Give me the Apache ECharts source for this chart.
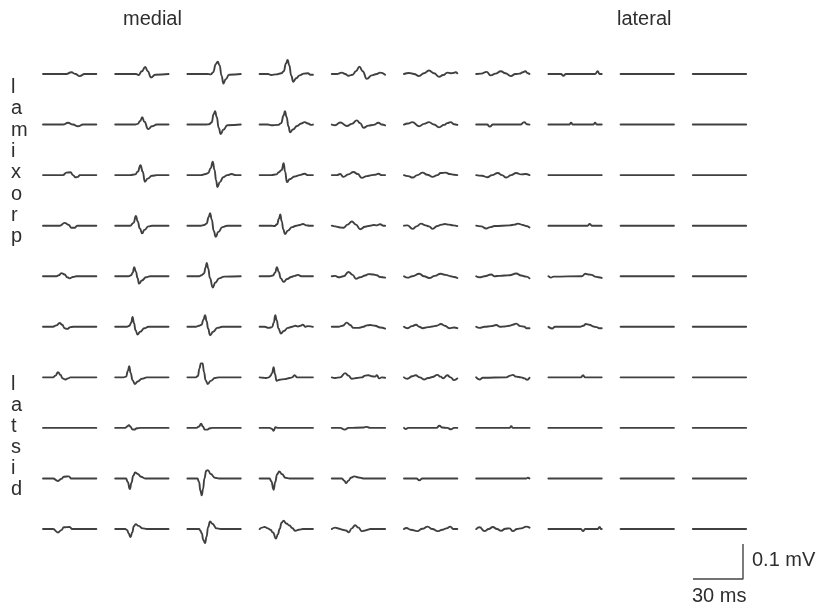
<!DOCTYPE html>
<html>
<head>
<meta charset="utf-8">
<script src="https://cdn.jsdelivr.net/npm/echarts@6/dist/echarts.min.js"></script>
<style>
  html, body { margin: 0; padding: 0; background: #fff; }
  #chart { width: 823px; height: 606px; }
</style>
</head>
<body>
<div id="chart"></div>
<script>
// Evoked potential traces: 10 recording rows (proximal at top, distal at bottom)
// by 10 electrode columns (medial at left, lateral at right).
// Each trace is a list of [time in ms, amplitude in µV] samples.

const FLAT = [[0, 0], [32, 0]];

const row1 = [
  [[0,0],[14,0],[17,5],[19.5,0],[22,-6],[25,0],[32,0]],
  [[0,0],[12.5,0],[14,-3],[16,8],[18,20],[19.5,8],[21.5,-10],[24,-2],[32,0]],
  [[0,0],[12,0],[14,-1],[15.5,5],[17,28],[18.2,35],[19.3,25],[20.5,-5],[21.6,-27],[23,-15],[25,-2],[32,0]],
  [[0,0],[5,0],[7,-3],[10,-1],[13,2],[14.5,8],[15.8,30],[16.8,40],[17.8,25],[19,-5],[20.2,-22],[22,-12],[24,-4],[26.5,1],[29,2],[30.5,-2],[32,-2]],
  [[0,0],[3,0],[6,4],[8,0],[10,-5],[12.5,-2],[14.5,8],[16.6,21],[18.5,8],[21,-14],[24,-4],[27,0],[29,4],[32,-2]],
  [[0,0],[3,3],[6,0],[9,-6],[12,2],[15,10],[18,2],[21,-8],[23.5,-3],[26,4],[28,2],[29.5,3],[31,5],[32,2]],
  [[0,0],[3,1],[6.2,6],[8.8,-4],[11.5,1],[14.8,8],[17.5,2],[20.8,-6],[23.5,0],[26,1],[28,5],[29.4,8],[31,2],[32,0]],
  [[0,0],[7.5,0],[9,-5],[10.5,0],[28,0],[29.6,8],[30.6,0],[32,0]],
  FLAT, FLAT
];

const row2 = [
  [[0,0],[12,0],[15,5],[18,0],[21,-5],[24,0],[32,0]],
  [[0,0],[12,0],[13.5,2],[15,10],[16.2,21],[17.5,8],[19.8,-13],[22,-5],[25,0],[32,0]],
  [[0,0],[11,0],[13,1],[14.5,6],[15.8,30],[16.6,38],[17.6,22],[18.8,-10],[20,-27],[21.5,-15],[24,-2],[32,0]],
  [[0,0],[5,0],[7,-2],[11,-1],[13,4],[14.3,25],[15.2,38],[16.2,22],[17.3,-5],[18.3,-22],[20,-14],[22.5,-4],[25,3],[27,7],[29,3],[31,-1],[32,0]],
  [[0,0],[2,-2],[5,6],[9,-4],[12,2],[15,12],[17,4],[19,-9],[22,-3],[25,-1],[28,5],[30,0],[32,-2]],
  [[0,0],[2.5,3],[5,7],[9,-5],[12,2],[15,7],[18,0],[21,-8],[24,-1],[26,4],[28,7],[30,1],[32,-1]],
  [[0,0],[6.5,0],[8.2,-6],[10,0],[26.5,0],[28.8,7],[30.5,1],[32,0]],
  [[0,0],[12.5,0],[13.6,5],[14.7,0],[27,0],[28,5],[29,0],[32,0]],
  FLAT, FLAT
];

const row3 = [
  [[0,0],[12,0],[14,7],[16.5,8],[18,0],[19.5,-6],[21,-5],[22,0],[32,0]],
  [[0,0],[9,0],[12,2],[13.5,10],[15.2,28],[16.5,10],[17.8,-19],[19.5,-10],[22,-2],[25,0],[32,0]],
  [[0,0],[8,0],[11,3],[12.5,6],[14,20],[15.2,38],[16.3,15],[17.2,-15],[18,-34],[19.5,-20],[21.5,-6],[24,0],[26.5,3],[29,0],[32,0]],
  [[0,0],[7,0],[10,2],[11.5,8],[13.3,15],[14.4,34],[15.3,10],[16.4,-20],[18,-12],[21,-4],[24,0],[27,4],[29,0],[32,0]],
  [[0,0],[3,0],[5,3],[7,-5],[10,2],[13,9],[15.5,3],[18,-8],[21,-3],[24,0],[26,1],[28,4],[30,0],[32,0]],
  [[0,0],[2.5,-3],[5.2,-7],[8,0],[11.2,7],[14,1],[17.2,-5],[20,0],[22,6],[25,7],[27.5,3],[30,1],[32,0]],
  [[0,0],[3.5,-2],[6.6,-6],[9.5,0],[13,6],[15.5,0],[18,-7],[21,0],[24,6],[27,2],[29.5,3],[32,0]],
  FLAT, FLAT, FLAT
];

const row4 = [
  [[0,0],[10,0],[13,8],[15.5,2],[17,-6],[19,-6],[20.5,0],[32,0]],
  [[0,0],[9,0],[11,8],[12.4,28],[13.5,12],[14.8,-8],[16.2,-22],[17.5,-12],[20,-2],[22,0],[32,0]],
  [[0,0],[8,0],[10,2],[11.5,6],[12.8,25],[13.6,36],[14.6,18],[15.8,-15],[17,-32],[18.5,-18],[21,-4],[24,0],[32,0]],
  [[0,0],[7,0],[9,-1],[10.5,4],[11.6,20],[12.4,32],[13.3,12],[14.2,-10],[15.2,-24],[17,-14],[19.5,-4],[22,0],[24,2],[26,5],[28,1],[30,0],[32,0]],
  [[0,0],[2,-2],[5,-5],[7,-6],[9.5,3],[12,12],[14.5,3],[17,-10],[20,-3],[23,0],[25,2],[27,1],[29,4],[31,0],[32,0]],
  [[0,0],[2,1],[5.2,-9],[7.5,-2],[10.2,6],[13,1],[15,-2],[17.2,-9],[20,-1],[22.5,3],[24.5,5],[27,3],[29.5,1],[32,-1]],
  [[0,0],[3,-2],[6,-8],[8.5,-4],[11,-1],[20,1],[23,3],[25,6],[28,2],[30,-1],[32,-5]],
  [[0,0],[23.5,0],[24.8,5],[26,0],[32,0]],
  FLAT, FLAT
];

const row5 = [
  [[0,0],[8,0],[9.5,3],[11,9],[13,5],[14.5,-3],[16,-6],[18,-2],[20,0],[32,0]],
  [[0,0],[8,0],[9.5,3],[10.5,10],[11.4,26],[12.5,12],[13.4,-5],[14.3,-21],[16,-12],[18.5,-3],[21,0],[32,0]],
  [[0,0],[7,0],[8.5,3],[10,8],[10.9,25],[11.6,38],[12.5,22],[13.5,-5],[15.2,-32],[16.8,-18],[19,-6],[22,-1],[32,0]],
  [[0,0],[6,0],[8,2],[9.3,10],[10.4,26],[11.5,12],[12.7,-6],[14.4,-16],[16.5,-8],[19,-2],[21,1],[23,4],[25,0],[32,0]],
  [[0,0],[2,1],[4,-3],[7,0],[10,12],[12.5,4],[14.5,-7],[17,-3],[20,2],[22,6],[25,5],[27,3],[29,-2],[32,-4]],
  [[0,0],[2.2,-4],[5,0],[9.2,7],[12,0],[15.2,-5],[18.5,1],[22,7],[25,4],[28,0],[30,-2],[32,-5]],
  [[0,0],[2,-3],[5,0],[9,5],[11,0],[14,1],[17,2],[20,3],[24,8],[27,2],[30,-1],[32,-6]],
  [[0,0],[1.5,-4],[3,-1],[20,0],[22.2,7],[24,5],[26,4],[28,-1],[30,-3],[32,-5]],
  FLAT, FLAT
];

const row6 = [
  [[0,0],[6,0],[8,4],[10,11],[11.5,6],[13,-4],[14.5,-6],[16.5,-1],[18,0],[32,0]],
  [[0,0],[7,0],[8.5,3],[9.6,12],[10.4,28],[11.3,10],[12.2,-10],[13.4,-22],[15,-14],[17.5,-4],[20,0],[32,0]],
  [[0,0],[5,0],[7,3],[8.5,6],[9.6,20],[10.6,33],[11.6,15],[12.4,-5],[13.6,-24],[15.5,-14],[18,-3],[21,0],[32,0]],
  [[0,0],[3,0],[5.5,-3],[7.5,-1],[8.5,12],[9.4,33],[10.3,18],[11.3,-5],[12.8,-19],[14.5,-12],[17,-3],[19.5,0],[21.5,3],[23,1],[24.5,3],[26,6],[27.5,0],[29,2],[32,0]],
  [[0,0],[4,0],[6.5,3],[9,12],[11,5],[13,-3],[16,-3],[19,0],[21,4],[23,5],[26,3],[29,-2],[32,-5]],
  [[0,0],[2.2,-4],[4.8,2],[7.2,6],[9.2,0],[11.2,-4],[14.5,-1],[17,1],[19.5,3],[22.2,8],[24.5,3],[27.2,-4],[30,-2],[32,-4]],
  [[0,0],[2,-3],[5,0],[9,2],[12,5],[14.5,0],[17,1],[20,3],[22,6],[24,9],[26.5,2],[29,0],[30,-4],[32,-4]],
  [[0,0],[2.2,-5],[4,0],[19,0],[21,3],[22.5,8],[24.5,6],[27,1],[29,-1],[30.5,-4],[32,-4]],
  FLAT, FLAT
];

const row7 = [
  [[0,0],[6,0],[7.5,5],[9,15],[10.5,7],[11.8,-3],[13.4,-6],[15,-3],[16.5,0],[32,0]],
  [[0,0],[5,0],[6.5,2],[7.6,18],[8.4,32],[9.3,12],[10.4,-8],[11.8,-19],[13.5,-12],[16,-4],[19,0],[32,0]],
  [[0,0],[5,0],[6.3,4],[7.2,25],[8.1,40],[9.1,40],[10,15],[10.9,-8],[12.2,-19],[14,-10],[16.5,-2],[19,0],[32,0]],
  [[0,0],[2,-1],[4,-2],[5.5,0],[6.5,4],[7.5,12],[8.4,29],[9.2,10],[10.2,-10],[12,-7],[15,-5],[18,-2],[19.5,0],[21,6],[22.5,0],[25,0],[32,0]],
  [[0,0],[2,-2],[5,0],[8,12],[10,5],[12,-4],[15,-2],[18,0],[20,5],[22,6],[24,3],[26,2],[27,6],[28.5,-3],[30,0],[32,-1]],
  [[0,0],[2,-4],[5,3],[7,6],[9.5,0],[12,-6],[14.5,-2],[17,1],[20,7],[22,2],[23.5,-3],[26,6],[28,0],[30,-8],[32,-3]],
  [[0,0],[2,-6],[4,-1],[18,0],[20.5,5],[22,7],[24,2],[27,0],[29,-3],[30.5,-7],[32,-1]],
  [[0,0],[19.5,0],[20.8,6],[22,0],[32,0]],
  FLAT, FLAT
];

const row8 = [
  FLAT,
  [[0,0],[6,0],[7.2,4],[8.2,8],[9.3,3],[10.2,-4],[11.4,-5],[13,-1],[15,0],[32,0]],
  [[0,0],[5.5,0],[7,4],[8.2,12],[9.3,4],[10.4,-5],[12,-5],[13.5,-1],[15,0],[32,0]],
  [[0,0],[6,0],[7.2,-2],[8.4,-8],[9.5,2],[11,0],[32,0]],
  [[0,0],[5,0],[7.8,-5],[10,0],[19,1],[21,3],[23,0],[32,0]],
  [[0,0],[1,-3],[2.5,0],[19.5,0],[21.2,6],[23,1],[26,0],[28.2,-4],[30,0],[32,0]],
  [[0,0],[20,0],[21,5],[22,0],[32,0]],
  FLAT, FLAT, FLAT
];

const row9 = [
  [[0,0],[6,0],[9,-7],[11,-1],[12.5,5],[15.5,6],[17,0],[32,0]],
  [[0,0],[6.5,0],[7.5,-10],[8.8,-30],[9.8,-12],[10.8,8],[12,17],[13.5,13],[15.5,5],[18,0],[32,0]],
  [[0,0],[6,0],[7,-10],[7.8,-35],[8.6,-48],[9.4,-30],[10.2,0],[11.3,22],[12.3,24],[14,13],[16.5,2],[19,0],[32,0]],
  [[0,0],[6,0],[7,-8],[8.4,-32],[9.4,-10],[10.5,12],[11.8,20],[13.5,12],[15.5,2],[18,0],[32,0]],
  [[0,0],[6,0],[7.5,-6],[8.6,-13],[10,-6],[11.5,2],[13.5,6],[16,3],[19,0],[32,0]],
  [[0,0],[7.5,0],[9.2,-5],[11,0],[32,0]],
  [[0,0],[30,0],[31,2],[32,0]],
  FLAT, FLAT, FLAT
];

const row10 = [
  [[0,0],[6,0],[9,-10],[11,-3],[12.5,5],[16,6],[17.5,0],[32,0]],
  [[0,0],[6,0],[7.2,-3],[8,-12],[9.2,-23],[10.2,-10],[11.2,8],[12.3,14],[14,9],[16.5,2],[19,0],[32,0]],
  [[0,0],[7,0],[7.8,-5],[8.6,-12],[9.6,-32],[10.6,-40],[11.5,-22],[12.4,5],[13.6,22],[15,15],[17.5,2],[20,0],[32,0]],
  [[0,0],[1.5,4],[3,6],[5,2],[6.5,-2],[8,-10],[9.8,-27],[11,-15],[12,0],[13.2,18],[14.4,24],[16,16],[18,10],[19.5,3],[21.5,-5],[23.5,-2],[26,0],[32,0]],
  [[0,0],[2,4],[4.5,1],[6.5,-2],[8.5,-4],[10.2,-9],[12,2],[14,11],[16,4],[18,-6],[20,-4],[21.5,-2],[23,0],[32,0]],
  [[0,0],[1.5,3],[4,-2],[8,-6],[11,1],[14.2,7],[17,0],[20.2,-6],[23,-2],[25.5,2],[27.8,7],[29.5,0],[32,0]],
  [[0,0],[2,5],[5,-6],[7.5,0],[10,6],[12.5,0],[15,-5],[17.5,1],[20,2],[22,-6],[24.5,0],[27,2],[30,7],[32,4]],
  [[0,0],[19.5,0],[20.8,-6],[22,0],[29.5,0],[30.8,6],[31.5,0],[32,0]],
  FLAT, FLAT
];

const traceRows = [row1, row2, row3, row4, row5, row6, row7, row8, row9, row10];

// Text labels
const topLabels = ['medial', 'lateral'];
const proximalLetters = ['l', 'a', 'm', 'i', 'x', 'o', 'r', 'p'];
const distalLetters = ['l', 'a', 't', 's', 'i', 'd'];

// Calibration bar
const scaleBarMs = 30;
const scaleBarUv = 100;
const scaleBarLabels = ['0.1 mV', '30 ms'];

// ---- layout ----
const traceMs = 32;             // length of one sweep
const halfRangeUv = 60;         // vertical room around each baseline
const pxPerMs = 50 / 30;
const pxPerUv = 35 / 100;
const colLeft0 = 43, colPitch = 72.2;
const rowBase0 = 74, rowPitch = 50.56;

const lineColor = '#404040';
const textColor = '#2e2e2e';
const fontFamily = '"Liberation Sans", Arial, Helvetica, sans-serif';

const grid = [], xAxis = [], yAxis = [], series = [];

traceRows.forEach((row, r) => {
  row.forEach((trace, c) => {
    const idx = grid.length;
    grid.push({
      left: colLeft0 + c * colPitch,
      top: rowBase0 + r * rowPitch - halfRangeUv * pxPerUv,
      width: traceMs * pxPerMs,
      height: 2 * halfRangeUv * pxPerUv
    });
    xAxis.push({ gridIndex: idx, type: 'value', min: 0, max: traceMs, show: false });
    yAxis.push({ gridIndex: idx, type: 'value', min: -halfRangeUv, max: halfRangeUv, show: false });
    series.push({
      type: 'line',
      xAxisIndex: idx,
      yAxisIndex: idx,
      data: trace,
      showSymbol: false,
      smooth: 0.5,
      smoothMonotone: 'x',
      clip: false,
      silent: true,
      lineStyle: { color: lineColor, width: 1.9, cap: 'round', join: 'round' }
    });
  });
});

// calibration bar grid
const barIdx = grid.length;
grid.push({ left: 693, top: 544, width: scaleBarMs * pxPerMs, height: scaleBarUv * pxPerUv });
xAxis.push({ gridIndex: barIdx, type: 'value', min: 0, max: scaleBarMs, show: false });
yAxis.push({ gridIndex: barIdx, type: 'value', min: 0, max: scaleBarUv, show: false });
series.push({
  type: 'line',
  xAxisIndex: barIdx,
  yAxisIndex: barIdx,
  data: [[0, 0], [scaleBarMs, 0], [scaleBarMs, scaleBarUv]],
  showSymbol: false,
  clip: false,
  silent: true,
  lineStyle: { color: '#444', width: 1.4 }
});

const textStyle = (text, x, y) => ({
  type: 'text',
  left: x,
  top: y,
  silent: true,
  style: { text, fill: textColor, font: '20px ' + fontFamily, verticalAlign: 'top' }
});

const graphic = [
  textStyle(topLabels[0], 123, 9),
  textStyle(topLabels[1], 617, 9),
  {
    type: 'text', left: 11, top: 77, silent: true,
    style: { text: proximalLetters.join('\n'), fill: textColor, font: '20px ' + fontFamily, lineHeight: 21.3 }
  },
  {
    type: 'text', left: 11, top: 374, silent: true,
    style: { text: distalLetters.join('\n'), fill: textColor, font: '20px ' + fontFamily, lineHeight: 21 }
  },
  textStyle(scaleBarLabels[0], 752, 550),
  textStyle(scaleBarLabels[1], 692, 586)
];

const chart = echarts.init(document.getElementById('chart'), null, { renderer: 'canvas' });
chart.setOption({
  backgroundColor: '#ffffff',
  animation: false,
  grid, xAxis, yAxis, series, graphic
});
</script>
</body>
</html>
